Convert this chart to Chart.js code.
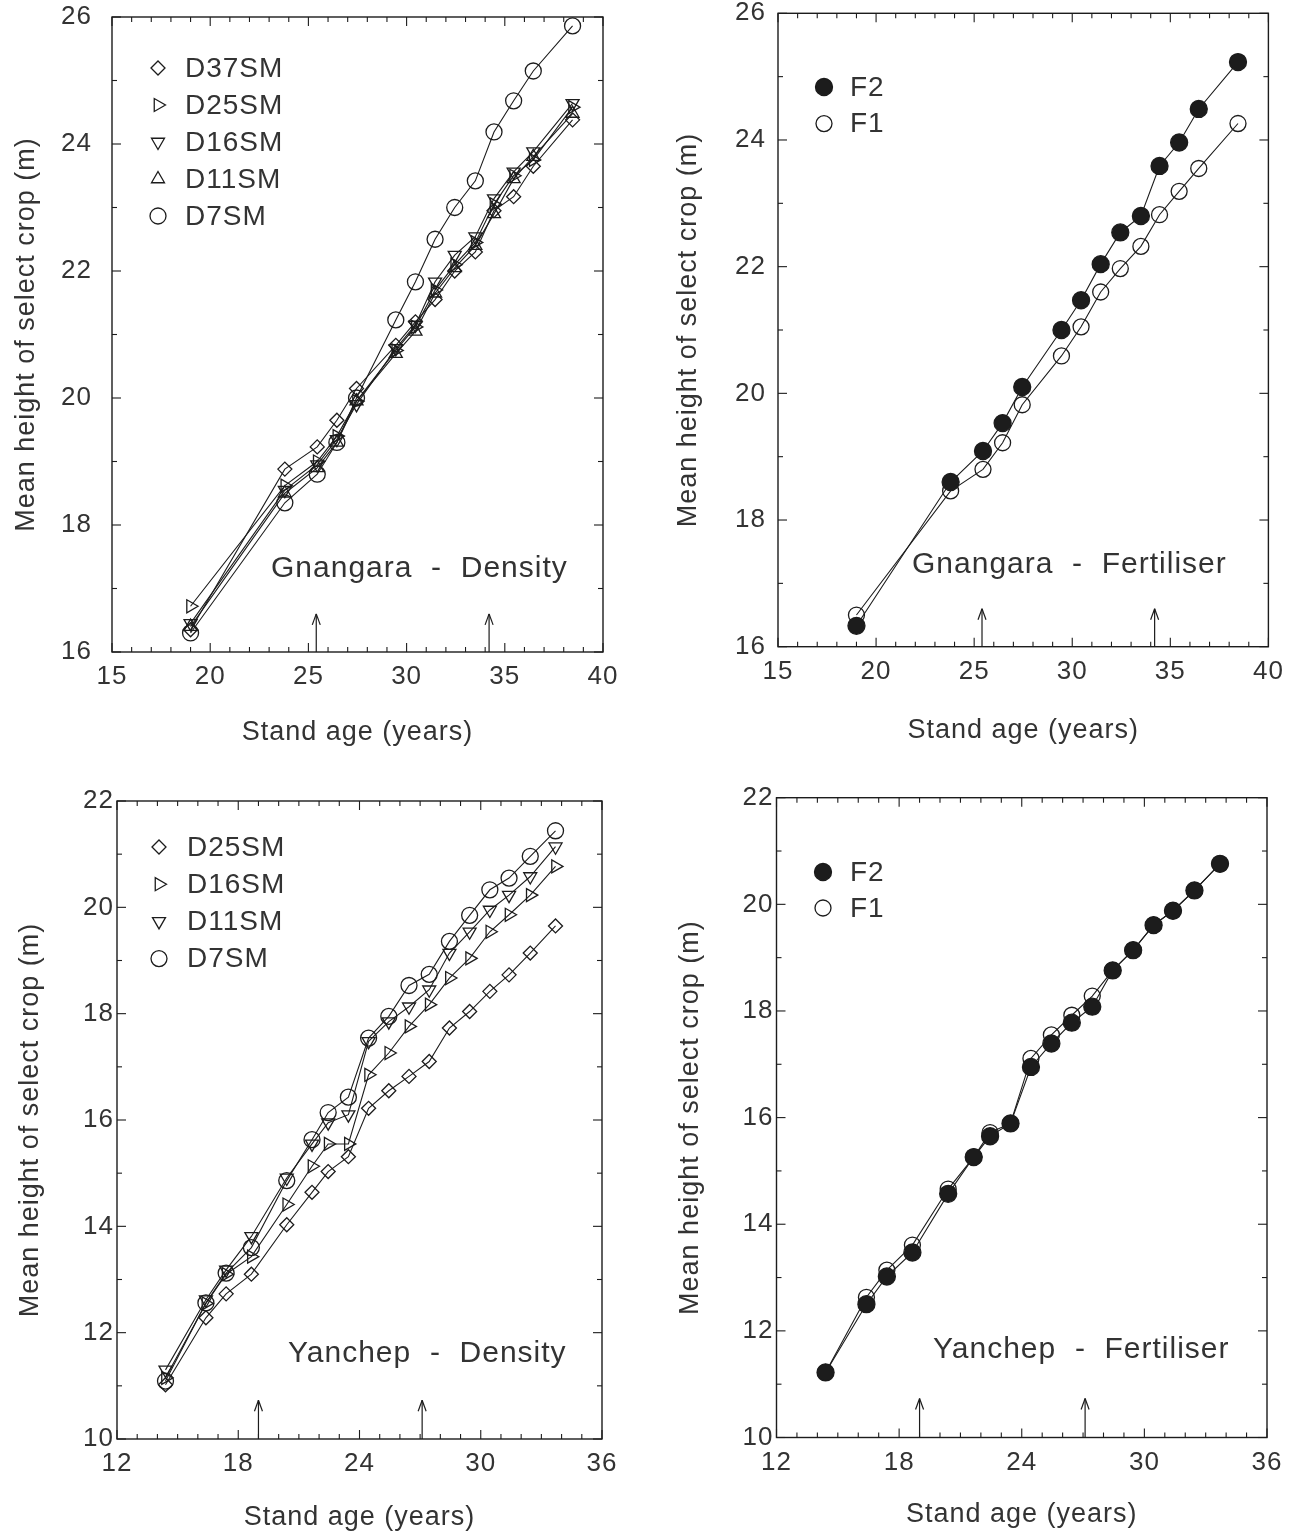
<!DOCTYPE html>
<html><head><meta charset="utf-8">
<script src="https://cdn.jsdelivr.net/npm/chart.js@4.4.0/dist/chart.umd.min.js"></script>
<style>
html,body{margin:0;padding:0;background:#fff;}
#wrap{position:relative;width:1298px;height:1536px;background:#fff;}
canvas{position:absolute;}
</style></head><body>
<div id="wrap">
<canvas id="c1" width="649" height="768" style="left:0px;top:0px"></canvas>
<canvas id="c2" width="649" height="768" style="left:649px;top:0px"></canvas>
<canvas id="c3" width="649" height="768" style="left:0px;top:768px"></canvas>
<canvas id="c4" width="649" height="768" style="left:649px;top:768px"></canvas>
</div>
<script>
// ---------------- DATA ----------------
// Gnangara stand ages (years)
const gnAges = [19.0, 23.8, 25.45, 26.45, 27.45, 29.45, 30.45, 31.45, 32.45, 33.5, 34.45, 35.45, 36.45, 38.45];
// Gnangara - Density
const gnD37SM = [16.35, 18.88, 19.23, 19.65, 20.15, 20.83, 21.2, 21.55, 22.0, 22.3, 22.95, 23.17, 23.65, 24.38];
const gnD25SM = [16.72, 18.62, 19.0, 19.4, 19.95, 20.75, 21.12, 21.7, 22.1, 22.45, 23.05, 23.5, 23.75, 24.58];
const gnD16SM = [16.45, 18.55, 18.95, 19.35, 19.9, 20.78, 21.15, 21.83, 22.25, 22.54, 23.14, 23.56, 23.88, 24.64];
const gnD11SM = [16.4, 18.5, 18.9, 19.3, 19.95, 20.7, 21.05, 21.65, 22.05, 22.4, 22.9, 23.45, 23.8, 24.48];
const gnD7SM  = [16.3, 18.35, 18.8, 19.3, 20.0, 21.23, 21.83, 22.5, 23.0, 23.42, 24.19, 24.68, 25.15, 25.86];
// Gnangara - Fertiliser
const gnF2 = [16.33, 18.6, 19.09, 19.53, 20.1, 21.0, 21.47, 22.04, 22.54, 22.8, 23.59, 23.96, 24.49, 25.23];
const gnF1 = [16.5, 18.46, 18.8, 19.22, 19.82, 20.59, 21.05, 21.6, 21.97, 22.32, 22.82, 23.19, 23.55, 24.26];
// Gnangara arrows (stand age) and arrow tip height
const gnArrowAges = [25.4, 34.2];
const gnArrowTip = 16.6;

// Yanchep stand ages (years)
const yaAges = [14.4, 16.4, 17.4, 18.65, 20.4, 21.65, 22.45, 23.45, 24.45, 25.45, 26.45, 27.45, 28.45, 29.45, 30.45, 31.4, 32.45, 33.7];
// Yanchep - Density
const yaD25SM = [11.02, 12.28, 12.73, 13.1, 14.03, 14.64, 15.03, 15.31, 16.22, 16.55, 16.82, 17.1, 17.73, 18.04, 18.42, 18.73, 19.14, 19.65];
const yaD16SM = [11.15, 12.55, 13.1, 13.43, 14.41, 15.13, 15.55, 15.55, 16.85, 17.26, 17.76, 18.17, 18.67, 19.04, 19.54, 19.86, 20.23, 20.77];
const yaD11SM = [11.3, 12.62, 13.18, 13.81, 14.91, 15.55, 15.95, 16.1, 17.48, 17.85, 18.13, 18.45, 19.14, 19.54, 19.95, 20.23, 20.58, 21.14];
const yaD7SM  = [11.09, 12.56, 13.12, 13.6, 14.86, 15.63, 16.14, 16.43, 17.54, 17.95, 18.53, 18.74, 19.36, 19.85, 20.33, 20.55, 20.96, 21.44];
// Yanchep - Fertiliser
const yaF2 = [11.22, 12.5, 13.02, 13.47, 14.57, 15.26, 15.65, 15.89, 16.95, 17.39, 17.78, 18.08, 18.76, 19.14, 19.61, 19.88, 20.26, 20.76];
const yaF1 = [11.22, 12.63, 13.14, 13.61, 14.66, 15.26, 15.72, 15.89, 17.11, 17.55, 17.92, 18.28, 18.76, 19.14, 19.61, 19.88, 20.26, 20.76];
// Yanchep arrows
const yaArrowAges = [19.0, 27.1];
const yaArrowTip = 10.73;

// Axis tick settings
const gnXTicks = {min: 15, max: 40, step: 5, minor: 1};
const gnYTicks = {min: 16, max: 26, step: 2, minor: 1};
const yaXTicks = {min: 12, max: 36, step: 6, minor: 1};
const yaYTicks = {min: 10, max: 22, step: 2, minor: 1};

const xTitle = 'Stand age (years)';
const yTitle = 'Mean height of select crop (m)';

// ---------------- STYLE ----------------
const FONT = '"Liberation Sans", Arial, Helvetica, sans-serif';
const INK = '#1c1c1c';
const TXT = '#333333';
const NONE = 'rgba(0,0,0,0)';

const STY = {
  diamond:  {pointStyle: 'rectRot', pointRadius: 7, pointRotation: 0},
  rightTri: {pointStyle: 'triangle', pointRadius: 7.5, pointRotation: 90},
  downTri:  {pointStyle: 'triangle', pointRadius: 7.5, pointRotation: 180},
  upTri:    {pointStyle: 'triangle', pointRadius: 7.5, pointRotation: 0},
  oCircle:  {pointStyle: 'circle', pointRadius: 8},
  fCircle:  {pointStyle: 'circle', pointRadius: 8.5, pointBackgroundColor: INK}
};

function makeDs(label, ages, vals, style) {
  return Object.assign({
    label: label,
    data: ages.map((a, i) => ({x: a, y: vals[i]})),
    borderColor: INK, borderWidth: 1.1, backgroundColor: NONE,
    pointBorderColor: INK, pointBackgroundColor: NONE, pointBorderWidth: 1.3,
    tension: 0, fill: false, clip: false
  }, style);
}

const decoPlugin = {
  id: 'deco',
  beforeDraw(chart) { try { chart.ctx.letterSpacing = '1px'; } catch (e) {} },
  afterDraw(chart) {
    const o = chart.options.plugins.deco;
    const ctx = chart.ctx, a = chart.chartArea, xs = chart.scales.x, ys = chart.scales.y;
    ctx.save();
    ctx.strokeStyle = INK; ctx.lineWidth = 1.4;
    ctx.strokeRect(a.left, a.top, a.right - a.left, a.bottom - a.top);
    ctx.lineWidth = 1.1;
    const line = (x1, y1, x2, y2) => { ctx.beginPath(); ctx.moveTo(x1, y1); ctx.lineTo(x2, y2); ctx.stroke(); };
    const isMajor = (v, t) => { const q = (v - t.min) / t.step; return Math.abs(q - Math.round(q)) < 1e-6; };
    for (let v = o.xt.min; v <= o.xt.max + 1e-9; v += o.xt.minor) {
      const px = xs.getPixelForValue(v), L = isMajor(v, o.xt) ? 9 : 5;
      line(px, a.bottom, px, a.bottom - L); line(px, a.top, px, a.top + L);
    }
    for (let v = o.yt.min; v <= o.yt.max + 1e-9; v += o.yt.minor) {
      const py = ys.getPixelForValue(v), L = isMajor(v, o.yt) ? 9 : 5;
      line(a.left, py, a.left + L, py); line(a.right, py, a.right - L, py);
    }
    // arrows
    ctx.lineWidth = 1.2;
    o.arrows.ages.forEach(ag => {
      const px = xs.getPixelForValue(ag), ty = ys.getPixelForValue(o.arrows.tip);
      line(px, a.bottom, px, ty);
      line(px, ty, px - 4, ty + 11); line(px, ty, px + 4, ty + 11);
    });
    // legend
    const lg = o.legend;
    chart.data.datasets.forEach((d, i) => {
      const y = lg.y + i * lg.dy;
      ctx.strokeStyle = INK; ctx.fillStyle = d.pointBackgroundColor || NONE; ctx.lineWidth = 1.3;
      Chart.helpers.drawPoint(ctx, {pointStyle: d.pointStyle, rotation: d.pointRotation || 0, radius: d.pointRadius, borderWidth: 1.3}, lg.x, y);
      ctx.fillStyle = TXT; ctx.font = '28px ' + FONT; ctx.textAlign = 'left'; ctx.textBaseline = 'middle';
      ctx.fillText(d.label, lg.tx, y + 1);
    });
    // panel label
    ctx.fillStyle = TXT; ctx.font = '30px ' + FONT; ctx.textAlign = 'left'; ctx.textBaseline = 'alphabetic';
    ctx.fillText(o.label.text, o.label.x, o.label.y);
    ctx.restore();
  }
};

function makePanel(p) {
  const W = 649, H = 768;
  const tickFont = {family: FONT, size: 26, lineHeight: 1};
  const titleFont = {family: FONT, size: 27, lineHeight: 1.2};
  return new Chart(document.getElementById(p.id), {
    type: 'line',
    data: {datasets: p.datasets},
    options: {
      responsive: false, animation: false, events: [],
      layout: {padding: {left: 0, top: p.plot.top, right: W - p.plot.right, bottom: 0}},
      plugins: {
        legend: {display: false}, tooltip: {enabled: false},
        deco: {xt: p.xt, yt: p.yt, arrows: p.arrows, legend: p.legend, label: p.label}
      },
      scales: {
        x: {
          type: 'linear', position: 'bottom', min: p.xt.min, max: p.xt.max,
          afterFit: s => { s.height = H - p.plot.bottom; s.paddingLeft = 0; s.paddingRight = 0; },
          grid: {display: false, drawTicks: false}, border: {display: false},
          ticks: {stepSize: p.xt.step, font: tickFont, color: TXT, padding: 12, maxRotation: 0, autoSkip: false},
          title: {display: true, text: xTitle, font: titleFont, color: TXT, padding: {top: 0, bottom: p.xTitlePad}}
        },
        y: {
          type: 'linear', position: 'left', min: p.yt.min, max: p.yt.max,
          afterFit: s => { s.width = p.plot.left; s.paddingTop = 0; s.paddingBottom = 0; },
          grid: {display: false, drawTicks: false}, border: {display: false},
          ticks: {stepSize: p.yt.step, font: tickFont, color: TXT, padding: p.yTickPad, autoSkip: false},
          title: {display: true, text: yTitle, font: titleFont, color: TXT, padding: {top: p.yTitlePad, bottom: 0}}
        }
      }
    },
    plugins: [decoPlugin]
  });
}

makePanel({
  id: 'c1', plot: {left: 112, top: 17, right: 603, bottom: 652},
  xt: gnXTicks, yt: gnYTicks, yTickPad: 20, yTitlePad: 10, xTitlePad: 19,
  datasets: [
    makeDs('D37SM', gnAges, gnD37SM, STY.diamond),
    makeDs('D25SM', gnAges, gnD25SM, STY.rightTri),
    makeDs('D16SM', gnAges, gnD16SM, STY.downTri),
    makeDs('D11SM', gnAges, gnD11SM, STY.upTri),
    makeDs('D7SM', gnAges, gnD7SM, STY.oCircle)
  ],
  arrows: {ages: gnArrowAges, tip: gnArrowTip},
  legend: {x: 158, y: 68, dy: 37, tx: 185},
  label: {text: 'Gnangara  -  Density', x: 271, y: 577}
});

makePanel({
  id: 'c2', plot: {left: 129, top: 13.3, right: 619.4, bottom: 646.7},
  xt: gnXTicks, yt: gnYTicks, yTickPad: 12, yTitlePad: 23, xTitlePad: 21,
  datasets: [
    makeDs('F2', gnAges, gnF2, STY.fCircle),
    makeDs('F1', gnAges, gnF1, STY.oCircle)
  ],
  arrows: {ages: gnArrowAges, tip: gnArrowTip},
  legend: {x: 175, y: 87, dy: 36.6, tx: 201},
  label: {text: 'Gnangara  -  Fertiliser', x: 263, y: 573}
});

makePanel({
  id: 'c3', plot: {left: 117, top: 33, right: 602, bottom: 671},
  xt: yaXTicks, yt: yaYTicks, yTickPad: 3, yTitlePad: 14, xTitlePad: 2,
  datasets: [
    makeDs('D25SM', yaAges, yaD25SM, STY.diamond),
    makeDs('D16SM', yaAges, yaD16SM, STY.rightTri),
    makeDs('D11SM', yaAges, yaD11SM, STY.downTri),
    makeDs('D7SM', yaAges, yaD7SM, STY.oCircle)
  ],
  arrows: {ages: yaArrowAges, tip: yaArrowTip},
  legend: {x: 159, y: 79, dy: 37.2, tx: 187},
  label: {text: 'Yanchep  -  Density', x: 288, y: 594}
});

makePanel({
  id: 'c4', plot: {left: 127.5, top: 29.7, right: 618, bottom: 669.5},
  xt: yaXTicks, yt: yaYTicks, yTickPad: 3, yTitlePad: 25, xTitlePad: 5,
  datasets: [
    makeDs('F2', yaAges, yaF2, STY.fCircle),
    makeDs('F1', yaAges, yaF1, STY.oCircle)
  ],
  arrows: {ages: yaArrowAges, tip: yaArrowTip},
  legend: {x: 174, y: 104, dy: 36, tx: 201},
  label: {text: 'Yanchep  -  Fertiliser', x: 284, y: 590}
});
</script>
</body></html>
